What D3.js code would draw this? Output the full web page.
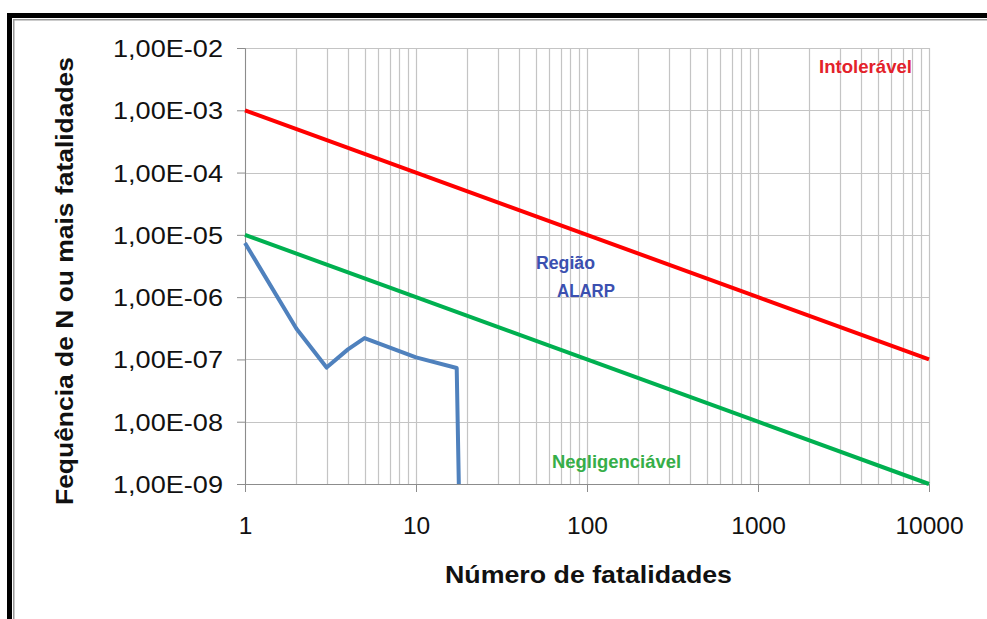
<!DOCTYPE html>
<html>
<head>
<meta charset="utf-8">
<script src="https://cdn.jsdelivr.net/npm/d3@7"></script>
<style>
  html, body { margin: 0; padding: 0; background: #fff; }
  svg { display: block; font-family: "Liberation Sans", Arial, sans-serif; }
</style>
</head>
<body>
<svg id="chart" width="987" height="619"></svg>
<script>
// ---- data ----
const xTickValues = [1, 10, 100, 1000, 10000];
const xTickLabels = ["1", "10", "100", "1000", "10000"];
const yTickValues = [1e-9, 1e-8, 1e-7, 1e-6, 1e-5, 1e-4, 1e-3, 1e-2];
const yTickLabels = ["1,00E-09", "1,00E-08", "1,00E-07", "1,00E-06", "1,00E-05", "1,00E-04", "1,00E-03", "1,00E-02"];

const intolerableN = [1, 10, 100, 1000, 10000];
const intolerableF = [1e-3, 1e-4, 1e-5, 1e-6, 1e-7];
const negligibleN = [1, 10, 100, 1000, 10000];
const negligibleF = [1e-5, 1e-6, 1e-7, 1e-8, 1e-9];
const curveN = [1, 2, 3, 4, 5, 10, 17.3, 17.8];
const curveF = [7.4e-6, 3.1e-7, 7.4e-8, 1.45e-7, 2.2e-7, 1.08e-7, 7.3e-8, 1e-9];

const svg = d3.select("#chart");

// ---- frame ----
svg.append("rect").attr("x", 7).attr("y", 13).attr("width", 980).attr("height", 5).attr("fill", "#000");
svg.append("rect").attr("x", 7).attr("y", 13).attr("width", 5).attr("height", 606).attr("fill", "#000");
svg.append("rect").attr("x", 13).attr("y", 19).attr("width", 974).attr("height", 1.5).attr("fill", "#9a9a9a");
svg.append("rect").attr("x", 13).attr("y", 19).attr("width", 1.5).attr("height", 600).attr("fill", "#9a9a9a");

// ---- scales ----
const x = d3.scaleLog().domain([1, 10000]).range([245, 929]);
const y = d3.scaleLog().domain([1e-9, 1e-2]).range([484, 48]);

// ---- grid ----
const grid = svg.append("g");
const minorX = [];
for (let d = 1; d < 10000; d *= 10) for (let k = 1; k <= 10; k++) minorX.push(d * k);
grid.selectAll("line.vx").data(Array.from(new Set(minorX))).join("line")
  .attr("x1", d => Math.round(x(d)) + 0.5).attr("x2", d => Math.round(x(d)) + 0.5)
  .attr("y1", y(1e-2)).attr("y2", y(1e-9))
  .attr("stroke", "#c4c4c4").attr("stroke-width", 1.2);
grid.selectAll("line.hy").data(yTickValues).join("line")
  .attr("x1", x(1)).attr("x2", x(10000))
  .attr("y1", d => Math.round(y(d)) + 0.5).attr("y2", d => Math.round(y(d)) + 0.5)
  .attr("stroke", "#c4c4c4").attr("stroke-width", 1.2);

// ---- axes ----
const yAxis = d3.axisLeft(y).tickValues(yTickValues)
  .tickFormat((d, i) => yTickLabels[i]).tickSize(8).tickPadding(14);
const gy = svg.append("g").attr("transform", `translate(${x(1)},0)`).call(yAxis);
gy.select(".domain").attr("stroke", "#8c8c8c");
gy.selectAll(".tick line").attr("stroke", "#8c8c8c");
gy.selectAll(".tick text").attr("font-size", 23.5).attr("fill", "#111")
  .attr("textLength", 110).attr("lengthAdjust", "spacingAndGlyphs")
  .attr("dy", "0.36em");

const xAxis = d3.axisBottom(x).tickValues(xTickValues)
  .tickFormat((d, i) => xTickLabels[i]).tickSize(8).tickPadding(0);
const gx = svg.append("g").attr("transform", `translate(0,${y(1e-9)})`).call(xAxis);
gx.select(".domain").attr("stroke", "#8c8c8c");
gx.selectAll(".tick line").attr("stroke", "#8c8c8c");
gx.selectAll(".tick text").attr("font-size", 24.5).attr("fill", "#111")
  .attr("dy", null).attr("y", 50);

// ---- lines ----
const line = d3.line().x(d => x(d[0])).y(d => y(d[1]));
const zip = (a, b) => a.map((v, i) => [v, b[i]]);

svg.append("path").datum(zip(curveN, curveF)).attr("d", line)
  .attr("fill", "none").attr("stroke", "#4F81BD").attr("stroke-width", 4).attr("stroke-linejoin", "round");
svg.append("path").datum(zip(negligibleN, negligibleF)).attr("d", line)
  .attr("fill", "none").attr("stroke", "#00B050").attr("stroke-width", 4);
svg.append("path").datum(zip(intolerableN, intolerableF)).attr("d", line)
  .attr("fill", "none").attr("stroke", "#FF0000").attr("stroke-width", 4);

// ---- region labels ----
function label(txt, xx, yy, size, len, color) {
  svg.append("text").attr("x", xx).attr("y", yy).attr("font-size", size)
    .attr("font-weight", "bold").attr("fill", color)
    .attr("textLength", len).attr("lengthAdjust", "spacingAndGlyphs").text(txt);
}
label("Intolerável", 819, 73, 18.5, 93, "#E3222B");
label("Região", 536, 269, 18, 59, "#3B50B0");
label("ALARP", 557, 297, 18, 58, "#3B50B0");
label("Negligenciável", 552, 468, 19, 129, "#36AE48");

// ---- axis titles ----
svg.append("text").attr("x", 445).attr("y", 583).attr("font-size", 24)
  .attr("font-weight", "bold").attr("fill", "#111")
  .attr("textLength", 287).attr("lengthAdjust", "spacingAndGlyphs")
  .text("Número de fatalidades");

svg.append("text").attr("transform", "translate(73,281) rotate(-90)")
  .attr("text-anchor", "middle").attr("font-size", 24)
  .attr("font-weight", "bold").attr("fill", "#111")
  .attr("textLength", 448).attr("lengthAdjust", "spacingAndGlyphs")
  .text("Fequência de N ou mais fatalidades");
</script>
</body>
</html>
